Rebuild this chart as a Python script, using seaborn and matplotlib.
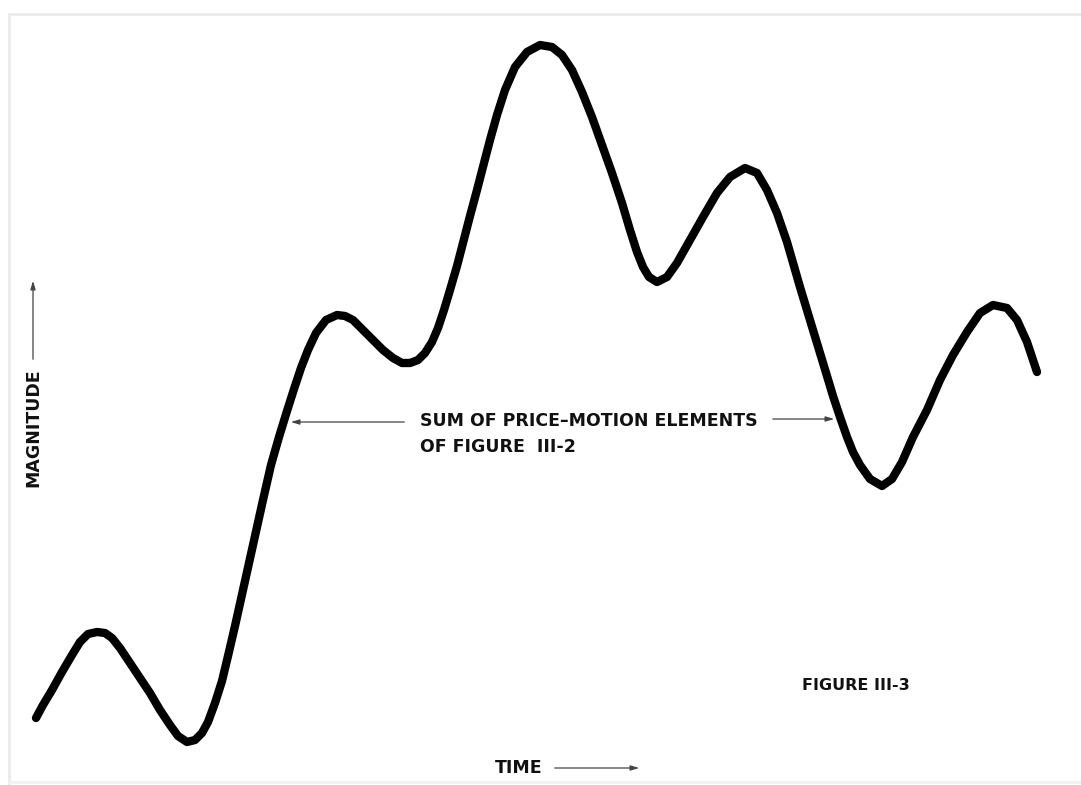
import matplotlib
matplotlib.use("Agg")
import matplotlib.pyplot as plt
import seaborn as sns
import pandas as pd

# curve (time, height from top) in figure pixel units
time = [36, 43, 52, 62, 72, 80, 88, 97, 105, 112, 120, 130, 140, 150, 160,
        170, 178, 187, 195, 202, 208, 215, 222, 228, 235, 243, 253, 263, 271,
        279, 287, 294, 301, 308, 316, 326, 337, 345, 353, 363, 373, 383,
        393, 402, 410, 418, 425, 432, 438, 444, 450, 457, 463, 470, 477, 484,
        490, 497, 505, 515, 527, 540, 552, 562, 572, 582, 592, 602, 612, 622,
        630, 637, 643, 649, 657, 667, 677, 690, 703, 717, 730, 745, 757, 767,
        777, 787, 800, 813, 820, 827, 833, 840, 847, 853, 860, 870, 882, 892,
        902, 913, 927, 940, 953, 967, 980, 993, 1007, 1017, 1027, 1037]
height_px = [718, 705, 690, 672, 655, 642, 634, 632, 633, 638, 648, 663, 678,
             693, 710, 725, 736, 742, 740, 733, 722, 703, 681, 656, 626, 590,
             545, 500, 465, 437, 411, 389, 368, 350, 333, 320, 315, 316,
             320, 330, 340, 350, 358, 363, 363, 360, 353, 342, 328, 310, 290,
             266, 243, 216, 190, 163, 140, 115, 90, 67, 52, 45, 47, 55, 70, 92,
             117, 145, 173, 203, 230, 252, 267, 277, 282, 277, 263, 240, 217,
             193, 177, 168, 173, 190, 213, 242, 287, 330, 353, 376, 396, 417,
             437, 452, 465, 479, 486, 479, 462, 437, 410, 380, 355, 332, 313,
             305, 308, 320, 342, 372]
magnitude = [785 - h for h in height_px]

df = pd.DataFrame({"time": time, "magnitude": magnitude})

sns.set_style("white")
plt.rcParams["font.family"] = ["DejaVu Sans"]

fig = plt.figure(figsize=(10.81, 7.85), dpi=100)
ax = fig.add_axes([0, 0, 1, 1])

sns.lineplot(data=df, x="time", y="magnitude", sort=False, color="black",
             linewidth=6.0, ax=ax, solid_capstyle="round", solid_joinstyle="round")

ax.set_xlim(0, 1081)
ax.set_ylim(0, 785)
ax.axis("off")

# faint frame of the scanned page
ax.plot([10, 1081], [785 - 14, 785 - 14], color="#ebebeb", lw=2)
ax.plot([9, 9], [785 - 14, 0], color="#ebebeb", lw=2)
ax.plot([9, 1081], [3, 3], color="#f2f2f2", lw=2)

txt = dict(fontweight="bold", color="#111111", fontsize=12.5)
arrow = dict(arrowstyle="-|>,head_length=0.5,head_width=0.15", color="#444444", lw=0.9)

ax.text(420, 785 - 421, "SUM OF PRICE\u2013MOTION ELEMENTS", ha="left", va="center", **txt)
ax.text(420, 785 - 447, "OF FIGURE  III-2", ha="left", va="center", **txt)
ax.annotate("", xy=(288, 785 - 422), xytext=(407, 785 - 422), arrowprops=arrow)
ax.annotate("", xy=(837, 785 - 419), xytext=(770, 785 - 419), arrowprops=arrow)

ax.text(33, 785 - 428, "MAGNITUDE", rotation=90, ha="center", va="center", **txt)
ax.annotate("", xy=(33, 785 - 278), xytext=(33, 785 - 362), arrowprops=arrow)

ax.text(495, 785 - 768, "TIME", ha="left", va="center", **txt)
ax.annotate("", xy=(642, 785 - 768), xytext=(552, 785 - 768), arrowprops=arrow)

ax.text(802, 785 - 686, "FIGURE III-3", ha="left", va="center",
        fontweight="bold", color="#111111", fontsize=11.5)

fig.savefig("out.png", dpi=100, facecolor="white")
